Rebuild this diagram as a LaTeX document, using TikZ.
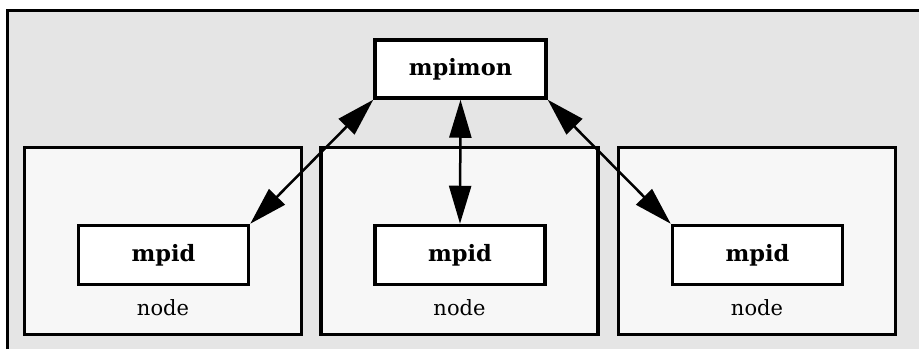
\documentclass[tikz,border=0pt]{standalone}
\usepackage{fontspec}
\setmainfont{DejaVu Serif}
\usetikzlibrary{arrows.meta}
\definecolor{panel}{HTML}{E5E5E5}
\definecolor{hostfill}{HTML}{F7F7F7}
\tikzset{
  hostbox/.style={draw=black, line width=3.5pt, fill=hostfill, minimum width=277pt, minimum height=187pt, inner sep=0pt},
  procbox/.style={draw=black, line width=3.5pt, fill=white, minimum width=170pt, minimum height=59pt, inner sep=0pt,
    font=\fontsize{22.5}{27}\selectfont\bfseries},
  hostlabel/.style={font=\fontsize{21}{25}\selectfont, anchor=base},
  link/.style={line width=2.5pt, {Triangle[length=38pt,width=22pt]}-{Triangle[length=38pt,width=22pt]}}
}
\begin{document}
\begin{tikzpicture}[x=1pt, y=-1pt]
  % canvas
  \useasboundingbox (0,0) rectangle (919,349);
  \fill[white] (0,0) rectangle (919,349);
  % grey panel with its top and left edges
  \fill[panel] (7.5,10.5) rectangle (919,349);
  \draw[line width=3.5pt] (7.5,349) -- (7.5,10.5) -- (919,10.5);

  % host machines
  \node[hostbox] (hostL) at (163,241) {};
  \node[hostbox] (hostM) at (459.5,241) {};
  \node[hostbox] (hostR) at (757,241) {};
  \node[hostlabel] (labL) at (163,315) {node};
  \node[hostlabel] (labM) at (459.5,315) {node};
  \node[hostlabel] (labR) at (757,315) {node};

  % daemons
  \node[procbox] (mpidL) at (163.5,255) {mpid};
  \node[procbox] (mpidM) at (460,255) {mpid};
  \node[procbox] (mpidR) at (757.5,255) {mpid};

  % monitor
  \node[procbox, minimum width=171pt, minimum height=58pt] (mpimon) at (460.5,69) {mpimon};

  % links
  \draw[link] (mpimon.south west) -- (mpidL.north east);
  \draw[link] (mpimon.south) -- (mpidM.north);
  \draw[link] (mpimon.south east) -- (mpidR.north west);
\end{tikzpicture}
\end{document}
